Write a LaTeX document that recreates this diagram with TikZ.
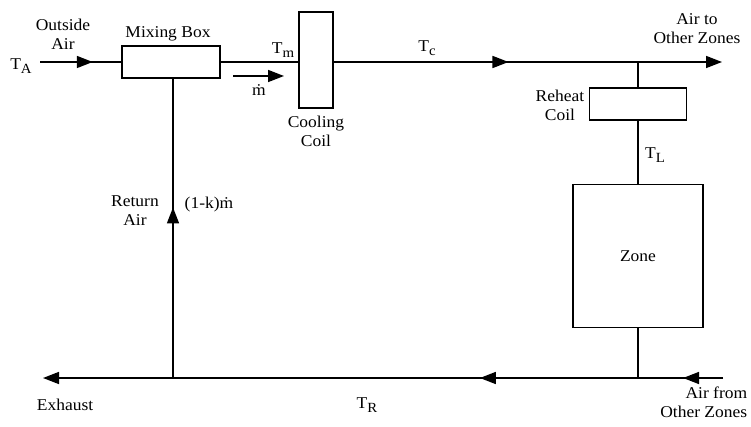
\documentclass[tikz,border=0pt]{standalone}
\usepackage{fontspec}
\setmainfont{Liberation Serif}[FakeStretch=1.06]
\usetikzlibrary{arrows.meta,decorations.markings}
\newcommand\lowsub[1]{\raisebox{-0.5ex}{\fontsize{14}{14}\selectfont #1}}

\begin{document}
\begin{tikzpicture}[x=1pt,y=-1pt,line width=1.6pt,
  font=\fontsize{16.5}{19}\selectfont,
  unit/.style={draw,line width=1.6pt,inner sep=0pt},
  lbl/.style={align=center,inner sep=0pt},
  tip/.style={-{Triangle[length=16pt,width=12pt]}},
  midarrow/.style={postaction={decorate},decoration={markings,
    mark=at position #1 with {\arrow{Triangle[length=16pt,width=12pt]}}}}]
\useasboundingbox (0,0) rectangle (751,427);

% units
\node[unit,minimum width=98pt,minimum height=32pt] (mix) at (171,62) {};
\node[unit,minimum width=34pt,minimum height=96pt] (cool) at (316,60) {};
\node[unit,minimum width=97pt,minimum height=32pt] (reheat) at (638,104) {};
\node[unit,minimum width=130pt,minimum height=143pt] (zone) at (638,256) {Zone};

% junctions and free ends
\coordinate (ta) at (40,62);
\coordinate (airout) at (722,62);
\coordinate (jtop) at (638,62);
\coordinate (airin) at (723,378);
\coordinate (jbot) at (638,378);
\coordinate (jret) at (173,378);
\coordinate (exhaust) at (43,378);
\coordinate (mdota) at (233,76);
\coordinate (mdotb) at (284,76);

% supply side
\draw[midarrow=0.65] (ta) -- (mix.west);
\draw (mix.east) -- (mix.east -| cool.west);
\draw[midarrow=0.45,tip] (mix.east -| cool.east) -- (airout);
\draw[tip] (mdota) -- (mdotb);
\draw (jtop) -- (jtop |- reheat.north);
\draw (jtop |- reheat.south) -- (jtop |- zone.north);
\draw (jtop |- zone.south) -- (jbot);

% return side
\draw[midarrow=0.47] (airin) -- (jbot);
\draw[midarrow=0.34] (jbot) -- (jret);
\draw[tip] (jret) -- (exhaust);
\draw[midarrow=0.57] (jret) -- (jret |- mix.south);

% labels
\node[lbl] (lta) at (21,66) {T\lowsub{A}};
\node[lbl] (lout) at (63,34) {Outside\\Air};
\node[lbl] (lmix) at (168,34) {Mixing Box};
\node[lbl] (ltm) at (283,50) {T\lowsub{m}};
\node[lbl] (lmdot) at (259,90) {\.m};
\node[lbl] (lcool) at (316,131) {Cooling\\Coil};
\node[lbl] (ltc) at (427,48) {T\lowsub{c}};
\node[lbl] (lairout) at (697,29) {Air to\\Other Zones};
\node[lbl] (lreheat) at (560,105) {Reheat\\Coil};
\node[lbl] (ltl) at (655,155) {T\lowsub{L}};
\node[lbl] (lret) at (135,211) {Return\\Air};
\node[lbl] (lflow) at (209,205) {(1-k)\.m};
\node[lbl] (lexh) at (65,405) {Exhaust};
\node[lbl] (ltr) at (367,405) {T\lowsub{R}};
\node[lbl,align=right,anchor=east] (lairin) at (748,402) {Air from\\Other Zones};
\end{tikzpicture}
\end{document}
